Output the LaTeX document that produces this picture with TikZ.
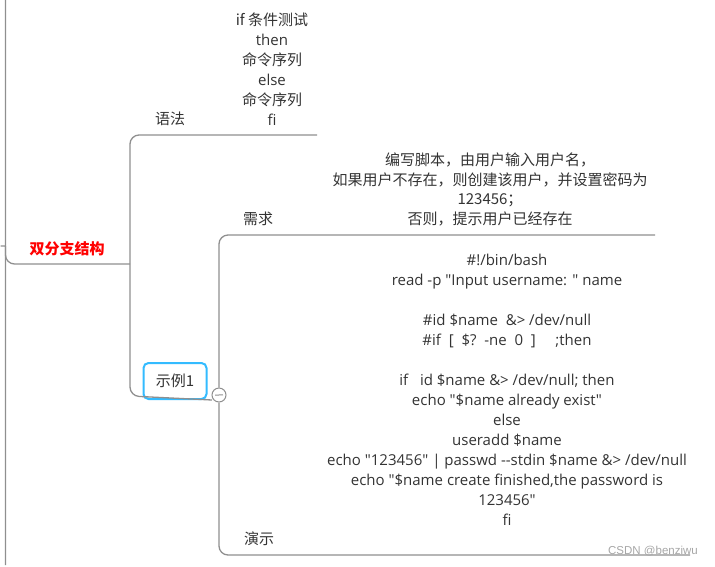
\documentclass[tikz,border=0pt]{standalone}
\usepackage{fontspec}
\setmainfont{Open Sans}[Ligatures=TeXOff]
\newfontfamily\cjk{Noto Sans CJK SC}[Ligatures=TeXOff]
\newfontfamily\wmfont{Liberation Sans}
\definecolor{linegray}{HTML}{8F8F8F}
\definecolor{txt}{HTML}{333333}
\definecolor{selblue}{HTML}{33BBFF}
\begin{document}
\begin{tikzpicture}[x=1pt,y=-1pt,
  branch/.style={draw=linegray,line width=1.3pt,rounded corners=9pt},
  lbl/.style={text=txt,font=\fontsize{15}{20}\selectfont,inner sep=0pt,align=center},
  cjklbl/.style={lbl,font=\cjk\fontsize{15}{20}\selectfont}]
\useasboundingbox (0,0) rectangle (715,566);
% coordinates
\coordinate (edgeT) at (5.5,0);
\coordinate (edgeB) at (5.5,565);
\coordinate (stubL) at (0.6,246);
\coordinate (stubR) at (5.5,246);
\coordinate (rootC) at (5.5,264);
\coordinate (rootE) at (130,264);
\coordinate (synE) at (317,135);
\coordinate (synC) at (130,135);
\coordinate (exC) at (130,396);
\coordinate (exE) at (212,396);
\coordinate (reqE) at (655,235);
\coordinate (reqC) at (219,235);
\coordinate (demoC) at (219,555);
\coordinate (demoE) at (690,555);
% nodes
\node[cjklbl,text=red,font=\cjk\bfseries\fontsize{15}{20}\selectfont] (root) at (67,249) {双分支结构};
\node[cjklbl] (syn) at (170,119) {语法};
\node[lbl] (syntxt) at (272,69) {{\cjk if 条件测试}\\then\\{\cjk 命令序列}\\else\\{\cjk 命令序列}\\fi};
\node[draw=selblue,line width=2pt,rounded corners=5pt,minimum width=63pt,minimum height=36pt,inner sep=0pt,fill=white] (ex) at (175,381) {};
\node[cjklbl] (extxt) at (175,381) {示例1};
\node[draw=linegray,line width=1pt,circle,minimum size=14pt,inner sep=0pt,fill=white] (tog) at (219,395) {};
\node[cjklbl] (req) at (258,219) {需求};
\node[cjklbl,font=\cjk\fontsize{15}{19.7}\selectfont] (reqtxt) at (490,189.5) {编写脚本，由用户输入用户名，\\如果用户不存在，则创建该用户，并设置密码为\\123456；\\否则，提示用户已经存在};
\node[lbl] (code) at (507,390) {\#!/bin/bash\\read -p "Input username: " name\\\mbox{}\\\#id \$name\ \ \&> /dev/null\\\#if\ \ [\ \ \$?\ \ -ne\ \ 0\ \ ]\ \ \ \ \ ;then\\\mbox{}\\if\ \ \ id \$name \&> /dev/null; then\\echo "\$name already exist"\\else\\useradd \$name\\echo "123456" | passwd --stdin \$name \&> /dev/null\\echo "\$name create finished,the password is\\123456"\\fi};
\node[cjklbl] (demo) at (259,539) {演示};
% connectors
\draw[branch] (edgeT) -- (rootC) -- (rootE);
\draw[branch,rounded corners=0.5pt] (stubL) -- (stubR) -- (edgeB);
\draw[branch] (synE) -- (synC) -- (exC) -- (ex.south -| exE);
\draw[branch] (reqE) -- (reqC) -- (tog.north);
\draw[branch] (tog.south) -- (demoC) -- (demoE);
\draw[draw=linegray,line width=1pt,rounded corners=0.5pt] ([xshift=-4pt]tog.center) -- (tog.center) -- ([xshift=4pt,yshift=0.2pt]tog.center);
\node[text=gray!70,font=\wmfont\fontsize{11.5}{12}\selectfont,inner sep=0pt] (wm) at (653,551) {CSDN @benziwu};
\end{tikzpicture}
\end{document}
